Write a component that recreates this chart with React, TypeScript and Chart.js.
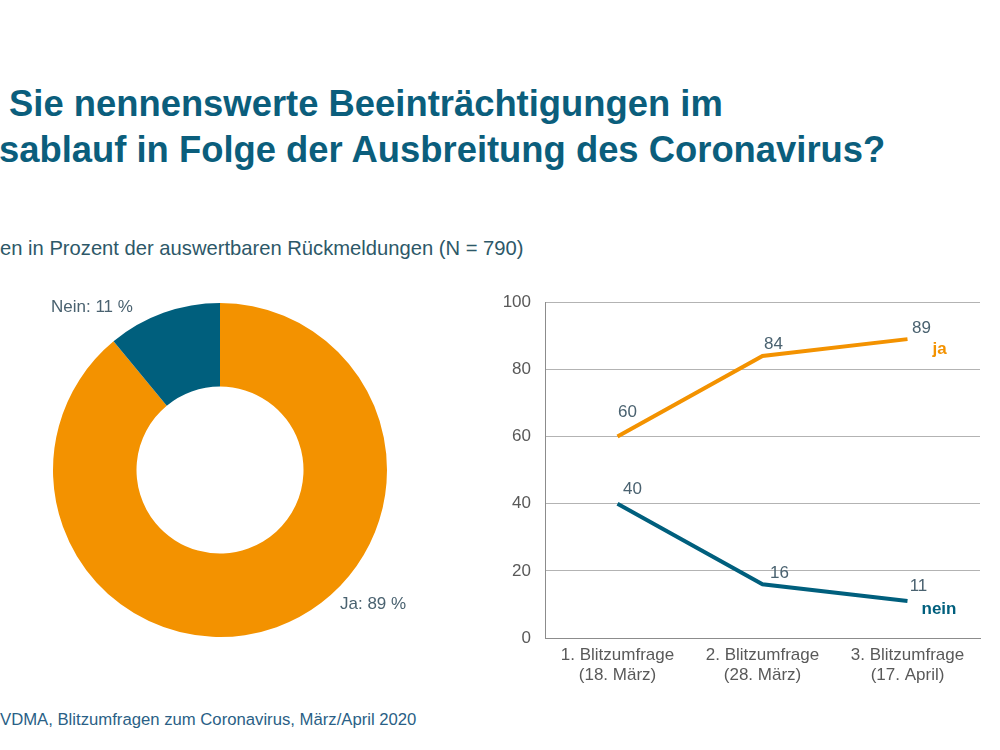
import React, { useEffect, useRef } from "react";
import { Chart, registerables } from "chart.js";

Chart.register(...registerables);

// ---- data ----
const pieCategories = ["Ja", "Nein"];
const pieValues = [89, 11];
const surveyLabels = [
  ["1. Blitzumfrage", "(18. März)"],
  ["2. Blitzumfrage", "(28. März)"],
  ["3. Blitzumfrage", "(17. April)"],
];
const jaValues = [60, 84, 89];
const neinValues = [40, 16, 11];
const seriesNames = ["ja", "nein"];
const yTicks = [0, 20, 40, 60, 80, 100];

// ---- styles ----
const ORANGE = "#f39200";
const TEAL = "#005f7d";
const TEXT = "#4a6270";
const FONT = "'Liberation Sans', Arial, sans-serif";

// offsets for value labels [dx, dy] per point
const jaLabelOffsets = [[10, -24], [11, -12], [14, -11]];
const neinLabelOffsets = [[15, -14], [17, -11], [11, -15]];

const lineLabelPlugin = {
  id: "lineLabels",
  afterDatasetsDraw(chart: any) {
    const ctx = chart.ctx;
    ctx.save();
    ctx.textBaseline = "middle";
    const offs = [jaLabelOffsets, neinLabelOffsets];
    chart.data.datasets.forEach((ds: any, di: number) => {
      const meta = chart.getDatasetMeta(di);
      ctx.font = `17px ${FONT}`;
      ctx.fillStyle = TEXT;
      ctx.textAlign = "center";
      meta.data.forEach((pt: any, i: number) => {
        const [dx, dy] = offs[di][i];
        ctx.fillText(String(ds.data[i]), pt.x + dx, pt.y + dy);
      });
      const last = meta.data[meta.data.length - 1];
      ctx.font = `bold 17px ${FONT}`;
      ctx.fillStyle = ds.borderColor;
      ctx.textAlign = "left";
      if (di === 0) ctx.fillText(seriesNames[0], last.x + 25, last.y + 10);
      else ctx.fillText(seriesNames[1], last.x + 14, last.y + 8);
    });
    ctx.restore();
  },
};

export default function App() {
  const pieRef = useRef<HTMLCanvasElement>(null);
  const lineRef = useRef<HTMLCanvasElement>(null);

  useEffect(() => {
    document.body.style.margin = "0";
    const pie = new Chart(pieRef.current!, {
      type: "doughnut",
      data: {
        labels: pieCategories,
        datasets: [
          {
            data: pieValues,
            backgroundColor: [ORANGE, TEAL],
            borderWidth: 0,
          },
        ],
      },
      options: {
        responsive: false,
        animation: false,
        cutout: "50%",
        layout: { padding: { left: 53, right: 53, top: 13, bottom: 13 } },
        plugins: { legend: { display: false }, tooltip: { enabled: false } },
      },
    });

    const line = new Chart(lineRef.current!, {
      type: "line",
      data: {
        labels: surveyLabels,
        datasets: [
          {
            label: seriesNames[0],
            data: jaValues,
            borderColor: ORANGE,
            borderWidth: 4,
            pointRadius: 0,
            tension: 0,
          },
          {
            label: seriesNames[1],
            data: neinValues,
            borderColor: TEAL,
            borderWidth: 4,
            pointRadius: 0,
            tension: 0,
          },
        ],
      },
      options: {
        responsive: false,
        animation: false,
        layout: { padding: { top: 0, right: 10, left: 0, bottom: 0 } },
        plugins: { legend: { display: false }, tooltip: { enabled: false } },
        scales: {
          x: {
            offset: true,
            grid: { display: false, drawTicks: false },
            border: { display: true, color: "#8c8c8c", width: 1 },
            ticks: {
              color: "#595959",
              font: { family: FONT, size: 17 },
              padding: 7,
              maxRotation: 0,
              autoSkip: false,
            },
            afterFit(scale: any) {
              scale.height = 62;
            },
          },
          y: {
            min: 0,
            max: 100,
            afterBuildTicks(scale: any) {
              scale.ticks = yTicks.map((v) => ({ value: v }));
            },
            grid: { color: "#b3b3b3", lineWidth: 1, drawTicks: false },
            border: { display: true, color: "#8c8c8c", width: 1 },
            ticks: {
              color: "#595959",
              font: { family: FONT, size: 17 },
              padding: 14,
            },
            afterFit(scale: any) {
              scale.width = 55;
            },
          },
        },
      },
      plugins: [lineLabelPlugin],
    });

    return () => {
      pie.destroy();
      line.destroy();
    };
  }, []);

  const textBase: React.CSSProperties = {
    position: "absolute",
    fontFamily: FONT,
    whiteSpace: "nowrap",
    margin: 0,
  };

  return (
    <div
      style={{
        position: "absolute",
        left: 0,
        top: 0,
        width: 1000,
        height: 750,
        background: "#fff",
        overflow: "hidden",
      }}
    >
      <div
        style={{
          ...textBase,
          left: 9,
          top: 81,
          fontSize: 36.4,
          fontWeight: "bold",
          color: "#0b5e7c",
          lineHeight: "46px",
        }}
      >
        Sie nennenswerte Beeinträchtigungen im
      </div>
      <div
        style={{
          ...textBase,
          left: -1,
          top: 127,
          fontSize: 36.4,
          fontWeight: "bold",
          color: "#0b5e7c",
          lineHeight: "46px",
        }}
      >
        sablauf in Folge der Ausbreitung des Coronavirus?
      </div>
      <div
        style={{
          ...textBase,
          left: 0,
          top: 236,
          fontSize: 20.2,
          color: "#2d5868",
          lineHeight: "24px",
        }}
      >
        en in Prozent der auswertbaren Rückmeldungen (N = 790)
      </div>

      <canvas
        ref={pieRef}
        width={440}
        height={360}
        style={{ position: "absolute", left: 0, top: 290, width: 440, height: 360 }}
      />
      <div style={{ ...textBase, left: 51, top: 297, fontSize: 17, color: TEXT, lineHeight: "20px" }}>
        {`${pieCategories[1]}: ${pieValues[1]} %`}
      </div>
      <div style={{ ...textBase, left: 340, top: 594, fontSize: 17, color: TEXT, lineHeight: "20px" }}>
        {`${pieCategories[0]}: ${pieValues[0]} %`}
      </div>

      <canvas
        ref={lineRef}
        width={500}
        height={422}
        style={{ position: "absolute", left: 490, top: 278, width: 500, height: 422 }}
      />

      <div
        style={{
          ...textBase,
          left: 0,
          top: 710,
          fontSize: 16.7,
          color: "#2a5f86",
          lineHeight: "20px",
        }}
      >
        VDMA, Blitzumfragen zum Coronavirus, März/April 2020
      </div>
    </div>
  );
}
